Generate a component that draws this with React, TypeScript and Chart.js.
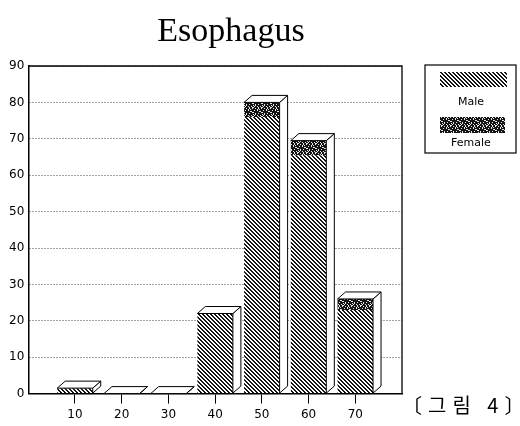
import React, { useEffect, useRef } from 'react';
import { Chart, registerables } from 'chart.js';

Chart.register(...registerables);

const ageGroups = [10, 20, 30, 40, 50, 60, 70];
const xTickLabels = ['10', '20', '30', '40', '50', '60', '70'];
const maleValues = [1.5, 0, 0, 22, 76, 65.5, 23];
const femaleValues = [0, 0, 0, 0, 4, 4, 3];
const seriesLabels = ['Male', 'Female'];
const chartTitle = 'Esophagus';
const figureCaption = '〔그림 4〕';

function makeHatch(): CanvasPattern | string {
  const c = document.createElement('canvas');
  c.width = 4;
  c.height = 4;
  const g = c.getContext('2d');
  if (!g) return '#555';
  const img = g.createImageData(4, 4);
  for (let y = 0; y < 4; y++) {
    for (let x = 0; x < 4; x++) {
      const on = (((x - y) % 4) + 4) % 4 < 2;
      const k = (y * 4 + x) * 4;
      const v = on ? 20 : 255;
      img.data[k] = v;
      img.data[k + 1] = v;
      img.data[k + 2] = v;
      img.data[k + 3] = 255;
    }
  }
  g.putImageData(img, 0, 0);
  return g.createPattern(c, 'repeat') || '#555';
}

function makeSpeckle(): CanvasPattern | string {
  const n = 9;
  const c = document.createElement('canvas');
  c.width = n;
  c.height = n;
  const g = c.getContext('2d');
  if (!g) return '#222';
  const img = g.createImageData(n, n);
  for (let y = 0; y < n; y++) {
    for (let x = 0; x < n; x++) {
      const on = (x * 37 + y * 91 + x * y * 13) % 11 > 2;
      const k = (y * n + x) * 4;
      const v = on ? 20 : 230;
      img.data[k] = v;
      img.data[k + 1] = v;
      img.data[k + 2] = v;
      img.data[k + 3] = 255;
    }
  }
  g.putImageData(img, 0, 0);
  return g.createPattern(c, 'repeat') || '#222';
}

const box3d = {
  id: 'box3d',
  afterDatasetsDraw(chart: any) {
    const ctx = chart.ctx;
    const m0 = chart.getDatasetMeta(0);
    const m1 = chart.getDatasetMeta(1);
    const dx = 8;
    const dy = 7;
    m0.data.forEach((bar: any, i: number) => {
      const p = bar.getProps(['x', 'width', 'base'], true);
      const topEl = m1.data[i];
      const yTop = topEl ? topEl.getProps(['y'], true).y : bar.getProps(['y'], true).y;
      const l = p.x - p.width / 2;
      const r = p.x + p.width / 2;
      const b = p.base;
      ctx.save();
      ctx.strokeStyle = '#000';
      ctx.lineWidth = 1;
      ctx.fillStyle = '#fff';
      ctx.lineJoin = 'round';
      ctx.beginPath();
      ctx.moveTo(r, yTop);
      ctx.lineTo(r + dx, yTop - dy);
      ctx.lineTo(r + dx, b - dy);
      ctx.lineTo(r, b);
      ctx.closePath();
      ctx.fill();
      ctx.stroke();
      ctx.beginPath();
      ctx.moveTo(l, yTop);
      ctx.lineTo(l + dx, yTop - dy);
      ctx.lineTo(r + dx, yTop - dy);
      ctx.lineTo(r, yTop);
      ctx.closePath();
      ctx.fill();
      ctx.stroke();
      ctx.restore();
    });
  },
};

const frame = {
  id: 'frame',
  beforeDraw(chart: any) {
    const ctx = chart.ctx;
    ctx.save();
    ctx.fillStyle = '#fff';
    ctx.fillRect(0, 0, chart.width, chart.height);
    ctx.restore();
  },
  beforeDatasetsDraw(chart: any) {
    const { ctx, chartArea } = chart;
    ctx.save();
    ctx.strokeStyle = '#000';
    ctx.lineWidth = 1.3;
    ctx.beginPath();
    ctx.moveTo(chartArea.left, chartArea.top);
    ctx.lineTo(chartArea.right, chartArea.top);
    ctx.lineTo(chartArea.right, chartArea.bottom);
    ctx.stroke();
    ctx.restore();
  },
};

const sideLegend = {
  id: 'sideLegend',
  afterDraw(chart: any) {
    const { ctx, chartArea } = chart;
    const bx = chartArea.right + 23;
    const by = chartArea.top - 1;
    const bw = 91;
    const bh = 88;
    ctx.save();
    ctx.strokeStyle = '#000';
    ctx.lineWidth = 1.2;
    ctx.strokeRect(bx, by, bw, bh);
    const ds = chart.data.datasets;
    ctx.fillStyle = ds[0].backgroundColor;
    ctx.fillRect(bx + 15, by + 7, 67, 15);
    ctx.fillStyle = ds[1].backgroundColor;
    ctx.fillRect(bx + 15, by + 52, 65, 16);
    ctx.fillStyle = '#000';
    ctx.font = '11px "DejaVu Sans", sans-serif';
    ctx.textAlign = 'center';
    ctx.textBaseline = 'middle';
    ctx.fillText(ds[0].label, bx + 46, by + 37);
    ctx.fillText(ds[1].label, bx + 46, by + 78);
    ctx.restore();
  },
};

export default function App() {
  const ref = useRef<HTMLCanvasElement | null>(null);

  useEffect(() => {
    const canvas = ref.current;
    if (!canvas) return;
    const hatch = makeHatch();
    const speckle = makeSpeckle();
    const chart = new Chart(canvas, {
      type: 'bar',
      data: {
        datasets: [
          {
            label: seriesLabels[0],
            data: ageGroups.map((x, i) => ({ x, y: maleValues[i] })),
            backgroundColor: hatch as any,
            borderWidth: 0,
            barPercentage: 0.76,
            categoryPercentage: 1,
          },
          {
            label: seriesLabels[1],
            data: ageGroups.map((x, i) => ({ x, y: femaleValues[i] })),
            backgroundColor: speckle as any,
            borderWidth: 0,
            barPercentage: 0.76,
            categoryPercentage: 1,
          },
        ],
      },
      options: {
        animation: false,
        responsive: false,
        layout: { padding: { left: 5, right: 118, top: 66, bottom: 0 } },
        plugins: {
          legend: { display: false },
          tooltip: { enabled: false },
          title: { display: false },
        },
        scales: {
          x: {
            type: 'linear',
            stacked: true,
            min: 0,
            max: 80,
            offset: false,
            ticks: {
              stepSize: 10,
              color: '#000',
              font: { family: '"DejaVu Sans", sans-serif', size: 12 },
              padding: 4,
              maxRotation: 0,
              autoSkip: false,
              callback: (v: any) => {
                const i = ageGroups.indexOf(Number(v));
                return i >= 0 ? xTickLabels[i] : '';
              },
            },
            grid: {
              offset: false,
              drawOnChartArea: false,
              drawTicks: true,
              tickLength: 10,
              color: (c: any) => (c.tick && ageGroups.includes(c.tick.value) ? '#000' : 'rgba(0,0,0,0)'),
            },
            border: { display: true, color: '#000', width: 1.5 },
          },
          y: {
            stacked: true,
            min: 0,
            max: 90,
            ticks: {
              stepSize: 10,
              color: '#000',
              font: { family: '"DejaVu Sans", sans-serif', size: 12 },
              padding: 4,
            },
            grid: {
              color: '#444',
              lineWidth: 1,
              drawTicks: false,
            },
            border: { display: true, color: '#000', width: 1.5, dash: [1, 2] },
          },
        },
      } as any,
      plugins: [frame, box3d, sideLegend],
    });
    return () => chart.destroy();
  }, []);

  return (
    <div style={{ position: 'absolute', left: 0, top: 0, width: 520, height: 426, background: '#fff' }}>
      <canvas ref={ref} width={520} height={426} style={{ width: 520, height: 426, display: 'block' }} />
      <div
        style={{
          position: 'absolute',
          left: 0,
          top: 13,
          width: 462,
          textAlign: 'center',
          fontFamily: '"Liberation Serif", "DejaVu Serif", serif',
          fontSize: 34,
          lineHeight: '34px',
          color: '#000',
          whiteSpace: 'nowrap',
        }}
      >
        {chartTitle}
      </div>
      <div
        style={{
          position: 'absolute',
          left: 402,
          top: 395,
          fontFamily: '"Noto Sans CJK KR", sans-serif',
          fontSize: 20,
          lineHeight: '20px',
          letterSpacing: 6,
          color: '#000',
          whiteSpace: 'nowrap',
        }}
      >
        {figureCaption}
      </div>
    </div>
  );
}
